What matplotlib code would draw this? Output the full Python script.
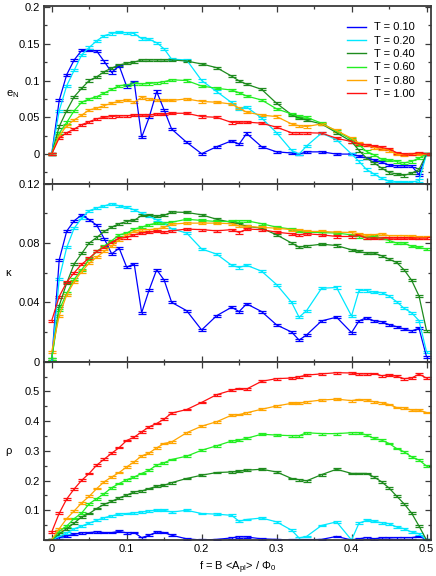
import matplotlib
matplotlib.use("Agg")
import matplotlib.pyplot as plt
from matplotlib.ticker import MultipleLocator, FuncFormatter
from matplotlib.lines import Line2D

plt.rcParams['font.family'] = ['Liberation Sans', 'DejaVu Sans']
plt.rcParams['mathtext.fontset'] = 'custom'
plt.rcParams['mathtext.rm'] = 'Liberation Sans'
plt.rcParams['mathtext.it'] = 'Liberation Sans:italic'
plt.rcParams['font.size'] = 8

# ---------------- data ----------------
f_vals = [0.00, 0.01, 0.02, 0.03, 0.04, 0.05, 0.06, 0.07, 0.08, 0.09, 0.10,
          0.11, 0.12, 0.13, 0.14, 0.15, 0.16, 0.18, 0.20, 0.22, 0.24, 0.25,
          0.26, 0.28, 0.30, 0.32, 0.33, 0.34, 0.36, 0.38, 0.40, 0.41, 0.42,
          0.43, 0.44, 0.45, 0.46, 0.47, 0.48, 0.49, 0.50]

temps = ["T = 0.10", "T = 0.20", "T = 0.40", "T = 0.60", "T = 0.80", "T = 1.00"]
colors = ["#0000ff", "#00e8ff", "#1e8b1e", "#22ee22", "#ffa500", "#ff1010"]

eN_T010 = [0, 0.073, 0.108, 0.128, 0.141, 0.141, 0.140, 0.126, 0.111, 0.120, 0.092,
           0.098, 0.023, 0.050, 0.085, 0.060, 0.034, 0.016, 0.0005, 0.010, 0.018, 0.0135,
           0.028, 0.010, 0.003, 0.0015, 0.0, 0.003, 0.003, 0.0, 0.0, -0.003, -0.005,
           -0.008, -0.011, -0.015, -0.016, -0.016, -0.016, -0.028, 0.0]
eN_T020 = [0, 0.059, 0.093, 0.114, 0.135, 0.145, 0.154, 0.161, 0.164, 0.1655, 0.165,
           0.164, 0.157, 0.156, 0.1515, 0.143, 0.129, 0.128, 0.100, 0.085, 0.070, 0.0615,
           0.064, 0.049, 0.029, 0.005, 0.0, 0.011, 0.0285, 0.0195, 0.0, -0.010, -0.021,
           -0.027, -0.033, -0.037, -0.0385, -0.0385, -0.0385, -0.036, 0.0]
eN_T040 = [0, 0.0375, 0.059, 0.078, 0.0895, 0.100, 0.105, 0.112, 0.117, 0.121, 0.1235,
           0.125, 0.128, 0.128, 0.128, 0.128, 0.128, 0.1265, 0.1225, 0.1175, 0.106, 0.0995,
           0.095, 0.088, 0.069, 0.0535, 0.0495, 0.046, 0.041, 0.029, 0.017, 0.005, -0.0055,
           -0.012, -0.019, -0.025, -0.027, -0.029, -0.026, -0.021, 0.0]
eN_T060 = [0, 0.0285, 0.043, 0.059, 0.0705, 0.075, 0.078, 0.083, 0.088, 0.093, 0.094,
           0.096, 0.0955, 0.096, 0.097, 0.0985, 0.101, 0.100, 0.0925, 0.0895, 0.087, 0.0835,
           0.079, 0.0735, 0.0615, 0.0545, 0.051, 0.050, 0.042, 0.031, 0.020, 0.0125, 0.0035,
           -0.001, -0.007, -0.0085, -0.010, -0.012, -0.010, -0.0055, 0.0]
eN_T080 = [0, 0.025, 0.0385, 0.0465, 0.053, 0.060, 0.0625, 0.066, 0.069, 0.072, 0.0735,
           0.0705, 0.077, 0.075, 0.0735, 0.073, 0.073, 0.075, 0.0715, 0.0705, 0.068, 0.0625,
           0.057, 0.053, 0.051, 0.041, 0.0385, 0.0375, 0.041, 0.032, 0.0215, 0.015, 0.012,
           0.009, 0.007, 0.005, 0.0, -0.001, 0.0, 0.0, 0.0]
eN_T100 = [0, 0.022, 0.029, 0.034, 0.040, 0.044, 0.048, 0.050, 0.051, 0.052, 0.052,
           0.053, 0.053, 0.053, 0.0545, 0.054, 0.0555, 0.0555, 0.051, 0.050, 0.043, 0.0435,
           0.0435, 0.042, 0.0365, 0.029, 0.029, 0.029, 0.0285, 0.0215, 0.017, 0.014, 0.0125,
           0.0105, 0.009, 0.007, 0.002, 0.0, 0.0, 0.002, 0.0]

kappa_T010 = [0, 0.0687, 0.088, 0.095, 0.099, 0.0957, 0.092, 0.083, 0.0727, 0.0765, 0.0637,
              0.066, 0.033, 0.0484, 0.062, 0.055, 0.040, 0.0344, 0.0214, 0.031, 0.0367, 0.0338,
              0.039, 0.0338, 0.0248, 0.020, 0.0146, 0.018, 0.0275, 0.030, 0.0196, 0.0275, 0.0297,
              0.0275, 0.027, 0.025, 0.0236, 0.022, 0.0207, 0.0225, 0.0034]
kappa_T020 = [0, 0.056, 0.077, 0.090, 0.0968, 0.1018, 0.1036, 0.105, 0.1065, 0.105, 0.104,
              0.1024, 0.100, 0.098, 0.0957, 0.0934, 0.0896, 0.0867, 0.076, 0.0725, 0.065, 0.0635,
              0.065, 0.061, 0.052, 0.040, 0.030, 0.0344, 0.0495, 0.050, 0.0308, 0.048, 0.048,
              0.0468, 0.0466, 0.0443, 0.0405, 0.036, 0.033, 0.0277, 0.0068]
kappa_T040 = [0.002, 0.0378, 0.053, 0.066, 0.073, 0.080, 0.0837, 0.0878, 0.0907, 0.093, 0.0945,
              0.0952, 0.0986, 0.0986, 0.098, 0.0986, 0.1009, 0.1006, 0.099, 0.096, 0.0939, 0.093,
              0.0912, 0.090, 0.0855, 0.080, 0.0772, 0.078, 0.0792, 0.0783, 0.0754, 0.0743, 0.0732,
              0.0732, 0.0714, 0.0691, 0.0669, 0.062, 0.055, 0.0443, 0.021]
kappa_T060 = [0.002, 0.035, 0.046, 0.0556, 0.062, 0.069, 0.0743, 0.078, 0.0815, 0.0855, 0.0867,
              0.0894, 0.0907, 0.0923, 0.0934, 0.0934, 0.094, 0.096, 0.0952, 0.0945, 0.0945, 0.095,
              0.095, 0.093, 0.0907, 0.0894, 0.0878, 0.0873, 0.087, 0.0867, 0.0855, 0.0844, 0.0837,
              0.0844, 0.0833, 0.0817, 0.080, 0.080, 0.0777, 0.077, 0.0759]
kappa_T080 = [0.0068, 0.031, 0.045, 0.054, 0.0608, 0.0664, 0.0705, 0.0743, 0.078, 0.0822, 0.0855,
              0.0878, 0.089, 0.089, 0.0894, 0.0905, 0.0927, 0.0934, 0.0934, 0.0934, 0.093, 0.0916,
              0.0912, 0.0905, 0.090, 0.089, 0.0885, 0.0878, 0.0878, 0.0873, 0.0871, 0.0862, 0.0851,
              0.0855, 0.0862, 0.0849, 0.0849, 0.0849, 0.0844, 0.0837, 0.0837]
kappa_T100 = [0.0277, 0.0439, 0.0536, 0.060, 0.0657, 0.0698, 0.0743, 0.0772, 0.0804, 0.0833, 0.0837,
              0.0855, 0.0867, 0.0873, 0.0878, 0.0873, 0.0882, 0.0894, 0.089, 0.0882, 0.089, 0.0871,
              0.0894, 0.089, 0.0873, 0.0862, 0.0855, 0.0862, 0.0855, 0.0844, 0.0844, 0.0851, 0.0833,
              0.0833, 0.0833, 0.0833, 0.0833, 0.0833, 0.0833, 0.0833, 0.0833]

rho_T010 = [0, 0.008, 0.013, 0.019, 0.024, 0.025, 0.027, 0.025, 0.025, 0.029, 0.024,
            0.025, 0.008, 0.016, 0.027, 0.025, 0.016, 0.004, 0.0, 0.002, 0.007, 0.011,
            0.010, 0.004, 0.002, 0.0, 0.0, 0.001, 0.002, 0.012, 0.0, 0.004, 0.008,
            0.004, 0.007, 0.007, 0.008, 0.008, 0.008, 0.012, 0.002]
rho_T020 = [0, 0.012, 0.024, 0.038, 0.047, 0.057, 0.066, 0.075, 0.081, 0.087, 0.089,
            0.091, 0.094, 0.098, 0.100, 0.100, 0.094, 0.100, 0.089, 0.087, 0.083, 0.063,
            0.069, 0.074, 0.061, 0.033, 0.007, 0.012, 0.049, 0.061, 0.0, 0.057, 0.066,
            0.063, 0.058, 0.055, 0.044, 0.038, 0.027, 0.021, 0.0]
rho_T040 = [0, 0.021, 0.038, 0.057, 0.078, 0.089, 0.106, 0.120, 0.130, 0.142, 0.151,
            0.162, 0.165, 0.173, 0.181, 0.184, 0.193, 0.207, 0.218, 0.227, 0.229, 0.231,
            0.235, 0.238, 0.229, 0.207, 0.203, 0.199, 0.220, 0.238, 0.224, 0.224, 0.224,
            0.212, 0.196, 0.175, 0.148, 0.122, 0.091, 0.047, 0.0]
rho_T060 = [0, 0.029, 0.047, 0.072, 0.091, 0.122, 0.139, 0.156, 0.176, 0.190, 0.203,
            0.212, 0.224, 0.235, 0.252, 0.260, 0.271, 0.282, 0.302, 0.317, 0.333, 0.336,
            0.342, 0.356, 0.353, 0.351, 0.351, 0.361, 0.358, 0.358, 0.361, 0.361, 0.353,
            0.342, 0.336, 0.325, 0.308, 0.297, 0.280, 0.269, 0.249]
rho_T080 = [0.002, 0.038, 0.072, 0.098, 0.125, 0.147, 0.173, 0.196, 0.212, 0.227, 0.246,
            0.263, 0.283, 0.293, 0.310, 0.325, 0.330, 0.361, 0.383, 0.398, 0.420, 0.422,
            0.428, 0.440, 0.451, 0.460, 0.460, 0.465, 0.471, 0.474, 0.469, 0.473, 0.471,
            0.465, 0.462, 0.456, 0.446, 0.445, 0.437, 0.437, 0.429]
rho_T100 = [0.027, 0.090, 0.138, 0.172, 0.201, 0.224, 0.252, 0.272, 0.292, 0.311, 0.335,
            0.346, 0.364, 0.381, 0.392, 0.407, 0.427, 0.439, 0.463, 0.489, 0.504, 0.510,
            0.508, 0.534, 0.543, 0.545, 0.549, 0.555, 0.559, 0.563, 0.562, 0.559, 0.559,
            0.560, 0.553, 0.555, 0.551, 0.543, 0.545, 0.558, 0.545]

eN_series = [eN_T010, eN_T020, eN_T040, eN_T060, eN_T080, eN_T100]
kappa_series = [kappa_T010, kappa_T020, kappa_T040, kappa_T060, kappa_T080, kappa_T100]
rho_series = [rho_T010, rho_T020, rho_T040, rho_T060, rho_T080, rho_T100]

# typical (small) error bar half-heights per panel
eN_err = 0.0015
kappa_err = 0.0007
rho_err = 0.003

# ---------------- figure ----------------
W, H = 436, 576
fig = plt.figure(figsize=(W / 100, H / 100), dpi=100)

left = 44 / W
width = (431 - 44) / W
def ybox(top_px, bot_px):
    return [left, 1 - bot_px / H, width, (bot_px - top_px) / H]

ax1 = fig.add_axes(ybox(5.5, 183.5))
ax2 = fig.add_axes(ybox(183.5, 361.7))
ax3 = fig.add_axes(ybox(361.7, 540))

spine_col = "#3a3a3a"
def fmt(v, pos):
    s = "%g" % round(v, 4)
    return "0" if s in ("-0", "0") else s

panels = [(ax1, eN_series, eN_err), (ax2, kappa_series, kappa_err), (ax3, rho_series, rho_err)]
for ax, series, err in panels:
    for vals, col, lab in zip(series, colors, temps):
        ax.errorbar(f_vals, vals, yerr=err, color=col, lw=0.9, elinewidth=0.9,
                    capsize=2.8, capthick=0.9, label=lab)
    ax.set_xlim(-0.0103, 0.506)
    ax.xaxis.set_major_locator(MultipleLocator(0.1))
    ax.xaxis.set_minor_locator(MultipleLocator(0.05))
    ax.tick_params(which='both', direction='in', top=True, right=True,
                   color=spine_col, labelsize=8, width=0.9, pad=3)
    ax.tick_params(which='major', length=4.5)
    ax.tick_params(which='minor', length=2.5)
    for sp in ax.spines.values():
        sp.set_color(spine_col)
        sp.set_linewidth(1.3)
    ax.yaxis.set_label_coords(-0.093, 0.5)

ax1.set_ylim(-0.04, 0.202)
ax1.yaxis.set_major_locator(MultipleLocator(0.05))
ax1.yaxis.set_minor_locator(MultipleLocator(0.025))
ax1.yaxis.set_major_formatter(FuncFormatter(fmt))
ax1.set_xticklabels([])
ax1.set_ylabel(r"e$_{\rm N}$", fontsize=8, rotation=0, va='center')
ax1.yaxis.set_label_coords(-0.08, 0.5)

ax2.set_ylim(0, 0.1201)
ax2.yaxis.set_major_locator(MultipleLocator(0.04))
ax2.yaxis.set_minor_locator(MultipleLocator(0.02))
ax2.yaxis.set_major_formatter(FuncFormatter(fmt))
ax2.set_xticklabels([])
ax2.set_ylabel("κ", fontsize=8, rotation=0, va='center')

ax3.set_ylim(0, 0.6)
ax3.yaxis.set_major_locator(MultipleLocator(0.1))
ax3.yaxis.set_minor_locator(MultipleLocator(0.05))
ax3.yaxis.set_major_formatter(FuncFormatter(
    lambda v, p: "" if (abs(v) < 1e-9 or abs(v - 0.6) < 1e-9) else "%g" % round(v, 3)))
ax3.xaxis.set_major_formatter(FuncFormatter(fmt))
ax3.set_ylabel("ρ", fontsize=8, rotation=0, va='center')
ax3.set_xlabel(r"f = B <A$_{\rm pl}$> / Φ$_0$", fontsize=8, labelpad=4)

handles = [Line2D([], [], color=c, lw=1.0) for c in colors]
ax1.legend(handles, temps, loc='upper left', bbox_to_anchor=(0.782, 0.905), frameon=False,
           fontsize=8, handlelength=1.7, handletextpad=0.77, labelspacing=0.3,
           borderpad=0, borderaxespad=0)

fig.savefig("out.png", dpi=100)
